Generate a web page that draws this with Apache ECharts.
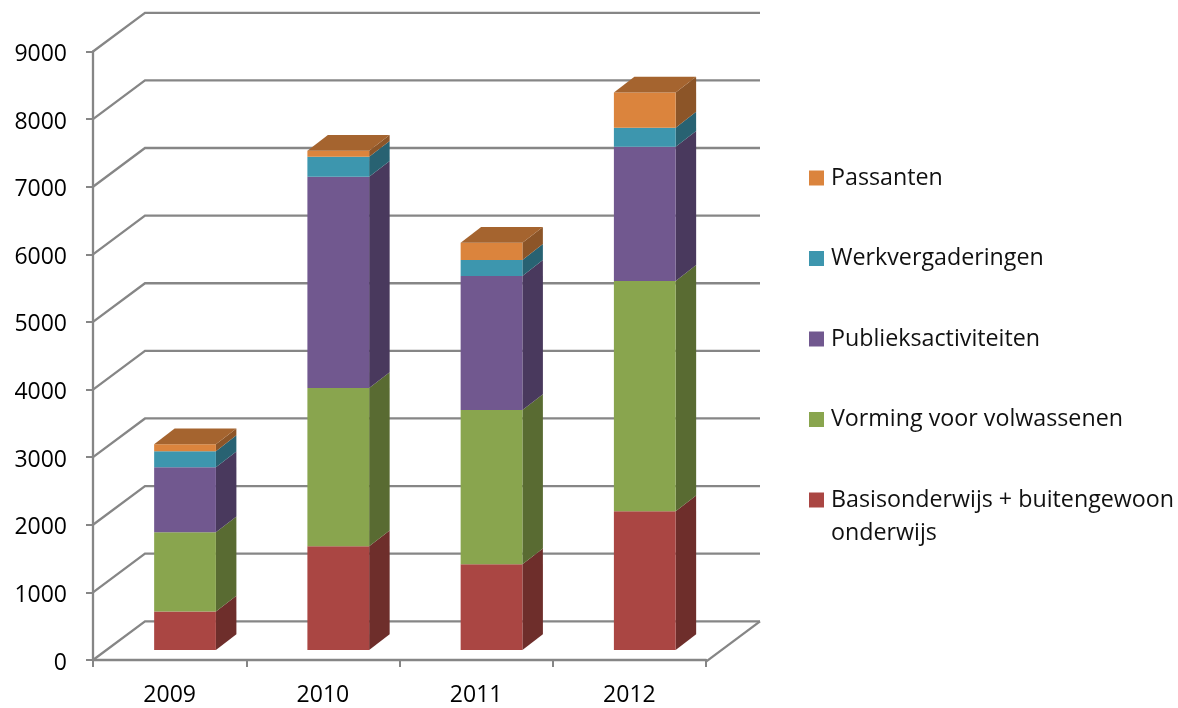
<!DOCTYPE html>
<html><head><meta charset="utf-8">
<style>html,body{margin:0;padding:0;background:#fff}#c{width:1178px;height:708px}</style>
<script src="https://cdn.jsdelivr.net/npm/echarts@6/dist/echarts.min.js"></script>
</head><body><div id="c"></div>
<script>
const categories = ['2009','2010','2011','2012'];
const yTicks = [0,1000,2000,3000,4000,5000,6000,7000,8000,9000];
const basisonderwijs = [570,1533,1267,2052];
const vorming = [1171,2341,2281,3407];
const publiek = [963,3126,1985,1985];
const werk = [237,296,237,282];
const passanten = [103,89,252,518];
const seriesNames = ['Basisonderwijs + buitengewoon\nonderwijs','Vorming voor volwassenen','Publieksactiviteiten','Werkvergaderingen','Passanten'];
const seriesValues = [basisonderwijs,vorming,publiek,werk,passanten];
const colors = ['#AA4643','#89A54E','#71588F','#3D96AE','#DB843D'];
const sideColors = ['#6E2E2B','#596B32','#49395D','#286272','#8C5528'];
const topColor = '#A5642F';
const gridColor = '#868686';
const font = 'Open Sans';

const wall = {dx:52, dy:-38.7, extra:2};
const barOff = {dx:15.4, dy:-10};
const depth = {dx:20.5, dy:-15.8};
const barRatio = 0.403;

function renderWall(params, api){
  const cs = params.coordSys;
  const p = api.coord([0, api.value(0)]);
  const x0 = cs.x, y = p[1];
  return {type:'polyline', silent:true, shape:{points:[
    [x0,y],[x0+wall.dx,y+wall.dy],[x0+cs.width+wall.dx+wall.extra,y+wall.dy]]},
    style:{stroke:gridColor,lineWidth:2.3,fill:null}};
}
function renderFloorEdge(params, api){
  const cs = params.coordSys;
  const xr = cs.x+cs.width, y = cs.y+cs.height;
  return {type:'line', silent:true, shape:{x1:xr,y1:y+1.6,x2:xr+wall.dx+wall.extra,y2:y+wall.dy},
    style:{stroke:gridColor,lineWidth:2.3}};
}
function makeRender(k, isTop){
  return function(params, api){
    const i = api.value(0);
    const w = api.size([1,0])[0]*barRatio;
    const a = api.coord([i, api.value(1)]);
    const b = api.coord([i, api.value(2)]);
    const xl = a[0]-w/2+barOff.dx, xr = xl+w, yb = a[1]+barOff.dy, yt = b[1]+barOff.dy;
    const kids = [
      {type:'polygon', shape:{points:[[xr,yb],[xr+depth.dx,yb+depth.dy],[xr+depth.dx,yt+depth.dy],[xr,yt]]}, style:{fill:sideColors[k]}},
      {type:'rect', shape:{x:xl,y:yt,width:w,height:yb-yt}, style:{fill:colors[k]}}
    ];
    if(isTop) kids.push({type:'polygon', shape:{points:[[xl,yt],[xl+depth.dx,yt+depth.dy],[xr+depth.dx,yt+depth.dy],[xr,yt]]}, style:{fill:topColor}});
    return {type:'group', silent:true, children:kids};
  };
}
const cum = categories.map(()=>0);
const barSeries = seriesValues.map((vals,k)=>{
  const data = vals.map((v,i)=>{const r=[i,cum[i],cum[i]+v];cum[i]+=v;return r;});
  return {type:'custom', name:seriesNames[k], renderItem:makeRender(k,k===seriesValues.length-1),
    data, encode:{x:0,y:[1,2]}, itemStyle:{color:colors[k]}, clip:false, z:3};
});
const chart = echarts.init(document.getElementById('c'),null,{renderer:'canvas'});
chart.setOption({
  animation:false,
  backgroundColor:'#fff',
  grid:{left:93,top:51.5,width:613,height:608.5,containLabel:false},
  xAxis:{type:'category',data:categories,offset:1.5,
    axisLine:{lineStyle:{color:gridColor,width:2.3}},
    axisTick:{show:true,length:7,lineStyle:{color:gridColor,width:2}},
    axisLabel:{color:'#000',fontFamily:font,fontSize:23,margin:22}},
  yAxis:{type:'value',min:0,max:9000,interval:1000,
    axisLine:{show:true,lineStyle:{color:gridColor,width:2.3}},
    axisTick:{show:true,length:7,lineStyle:{color:gridColor,width:2}},
    axisLabel:{color:'#000',fontFamily:font,fontSize:23,margin:26,verticalAlign:'top',lineHeight:6,formatter:v=>String(v)},
    splitLine:{show:false}},
  legend:{show:true,orient:'vertical',left:809,top:128.5,padding:0,itemGap:-18.5,itemWidth:15,itemHeight:15,
    icon:'rect',selectedMode:false,
    data:seriesNames.slice().reverse(),
    formatter:n=>{const p=n.split('\n');return '\n'+p[0]+'\n'+(p[1]||' ');},
    textStyle:{color:'#111',fontFamily:font,fontSize:23.25,lineHeight:33,padding:[0,0,0,2]}},
  series:[
    {type:'custom',name:'wall',renderItem:renderWall,data:yTicks.map(v=>[v]),encode:{y:0},clip:false,z:1,silent:true},
    {type:'custom',name:'floor',renderItem:renderFloorEdge,data:[[0]],encode:{y:0},clip:false,z:1,silent:true}
  ].concat(barSeries)
});
</script></body></html>
